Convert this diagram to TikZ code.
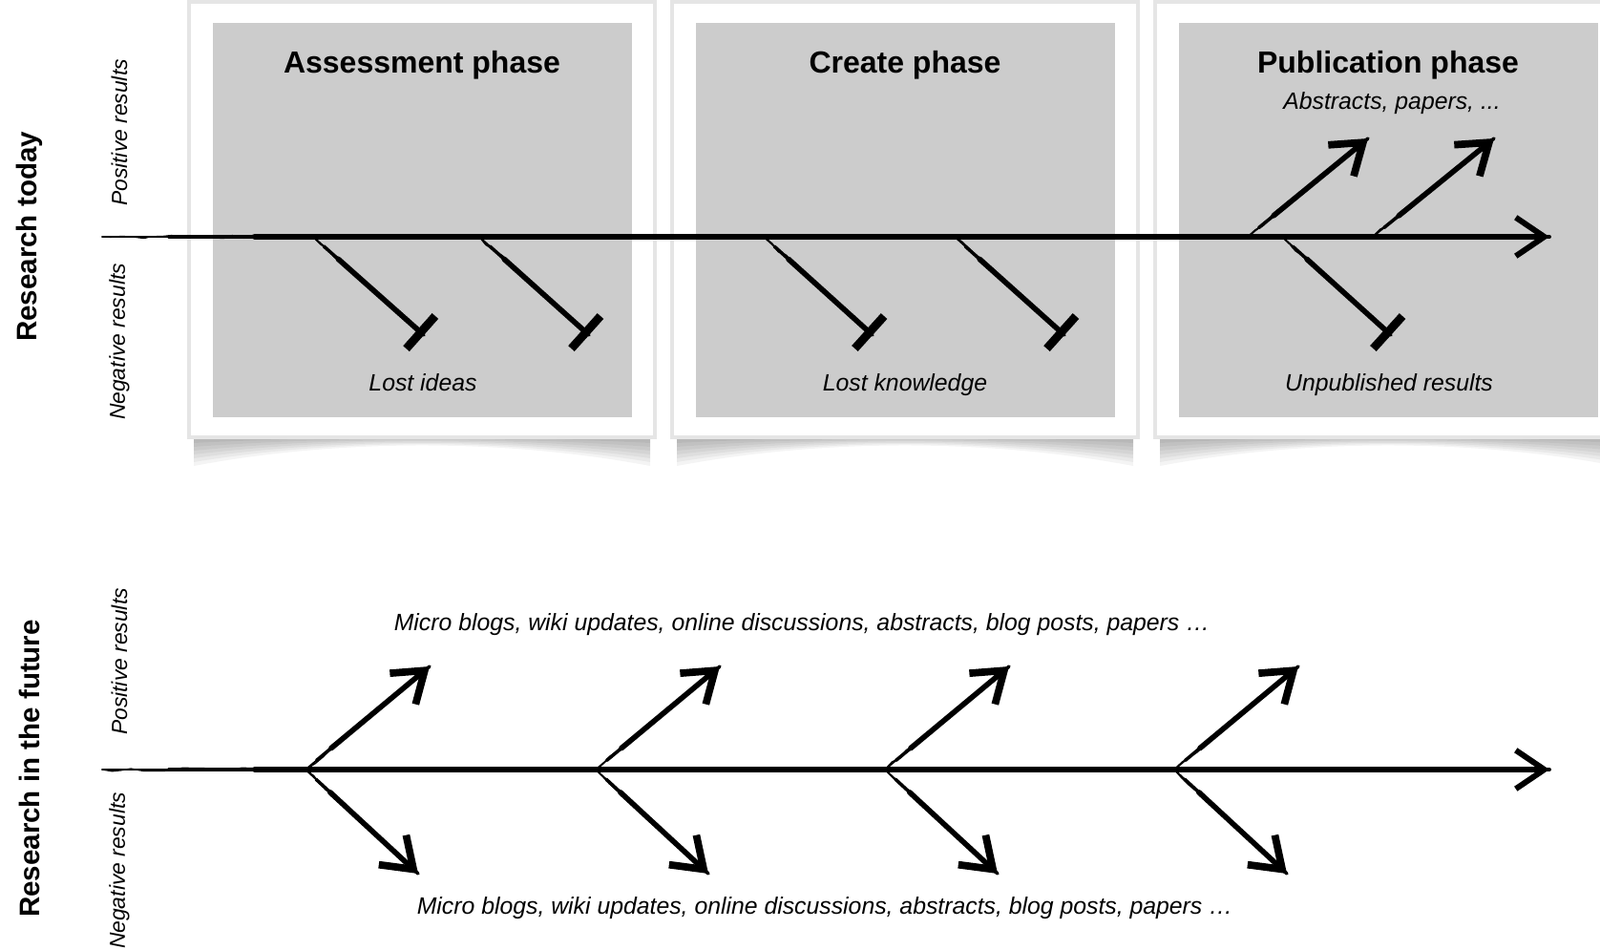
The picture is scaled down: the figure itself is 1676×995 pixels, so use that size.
\documentclass[tikz,border=0pt]{standalone}
\usepackage{fontspec}
\setmainfont{Liberation Sans}
\usetikzlibrary{arrows.meta, decorations.pathmorphing, positioning}

\begin{document}
\begin{tikzpicture}[
    x = 0.01cm,
    y = -0.01cm,
    line cap = round,
    ]

    \tikzstyle{card}=[fill = white, draw = black!10, line width = 1pt]
    \tikzstyle{phasebox}=[fill = black!20]
    \tikzstyle{title}=[anchor = base, font = \fontsize{9.1}{11}\selectfont\bfseries]
    \tikzstyle{rowlabel}=[font = \fontsize{8.4}{10}\selectfont\bfseries, rotate = 90]
    \tikzstyle{sidelabel}=[font = \fontsize{6.5}{8}\selectfont\itshape, rotate = 90]
    \tikzstyle{result}=[anchor = base, font = \fontsize{7.05}{9}\selectfont\itshape]
    \tikzstyle{rough}=[postaction = {draw, -, line width = 0.4pt, shorten <= 0pt,
        decorate, decoration = {random steps, segment length = 3pt, amplitude = 0.5pt}}]
    \tikzstyle{spine}=[line width = 1.8pt, shorten <= 1.6cm, rough,
        -{Straight Barb[length = 8.5pt, width = 11.5pt, line width = 1.7pt]},
        preaction = {draw, -, line width = 0.5pt, shorten <= 0pt},
        preaction = {draw, -, line width = 1.1pt, shorten <= 0.7cm}]
    \tikzstyle{good}=[line width = 1.6pt, shorten <= 0.35cm, rough,
        -{Straight Barb[length = 8.5pt, width = 12pt, line width = 2.2pt]},
        preaction = {draw, -, line width = 0.5pt, shorten <= 0pt},
        preaction = {draw, -, line width = 1pt, shorten <= 0.15cm}]
    \tikzstyle{lost}=[line width = 1.6pt, shorten <= 0.35cm, rough,
        -{Bar[width = 13pt, line width = 2.5pt]},
        preaction = {draw, -, line width = 0.5pt, shorten <= 0pt},
        preaction = {draw, -, line width = 1pt, shorten <= 0.15cm}]

    \clip (0,0) rectangle (1676,995);
    \fill[white] (0,0) rectangle (1676,995);

    % the three phase cards, with their curled shadow
    \foreach \l in {198, 704, 1210} {
      \foreach \d in {4,8,...,36}
        \fill[black, opacity = 0.045] (\l+5,452) -- (\l+483,452) -- (\l+483,452+\d)
          .. controls (\l+330,455+0.12*\d) and (\l+158,455+0.12*\d) .. (\l+5,452+\d) -- cycle;
      \draw[card] (\l,2) rectangle (\l+488,458);
      \fill[phasebox] (\l+25,24) rectangle (\l+464,437);
    }

    \node[title] (assess) at (442,77) {Assessment phase};
    \node[title] (create) at (948,77) {Create phase};
    \node[title] (publish) at (1454,77) {Publication phase};

    \node[rowlabel] (today) at (31,248) {Research today};
    \node[sidelabel] (pos1) at (125,139) {Positive results};
    \node[sidelabel] (neg1) at (125,358) {Negative results};

    \node[rowlabel] (future) at (31,805) {Research in the future};
    \node[sidelabel] (pos2) at (125,693) {Positive results};
    \node[sidelabel] (neg2) at (125,912) {Negative results};

    % research today
    \coordinate (todaystart) at (107,248);
    \coordinate (todayend) at (1623,248);
    \draw[spine] (todaystart) -- (todayend);

    \foreach \a/\b [count=\i] in {328/444, 502/617, 800/914, 1000/1115, 1343/1457} {
      \coordinate (lost\i) at (\a,248);
      \coordinate (lostend\i) at (\b,351);
      \draw[lost] (lost\i) -- (lostend\i);
    }
    \foreach \a/\b [count=\i] in {1307/1433, 1438/1565} {
      \coordinate (paper\i) at (\a,248);
      \coordinate (paperend\i) at (\b,145);
      \draw[good] (paper\i) -- (paperend\i);
    }

    \node[result] (ideas) at (443,410) {Lost ideas};
    \node[result] (knowledge) at (948,410) {Lost knowledge};
    \node[result] (unpublished) at (1455,410) {Unpublished results};
    \node[result] (abstracts) at (1458,115) {Abstracts, papers, ...};

    % research in the future
    \coordinate (futurestart) at (107,806);
    \coordinate (futureend) at (1623,806);
    \draw[spine] (futurestart) -- (futureend);

    \foreach \x [count=\i] in {320, 624, 927, 1230} {
      \coordinate (share\i) at (\x,806);
      \coordinate (shareup\i) at (\x+130,698);
      \coordinate (sharedown\i) at (\x+118,915);
      \draw[good] (share\i) -- (shareup\i);
      \draw[good] (share\i) -- (sharedown\i);
    }

    \node[result] (posup) at (840,661) {Micro blogs, wiki updates, online discussions, abstracts, blog posts, papers …};
    \node[result] (posdown) at (864,957) {Micro blogs, wiki updates, online discussions, abstracts, blog posts, papers …};
\end{tikzpicture}
\end{document}
